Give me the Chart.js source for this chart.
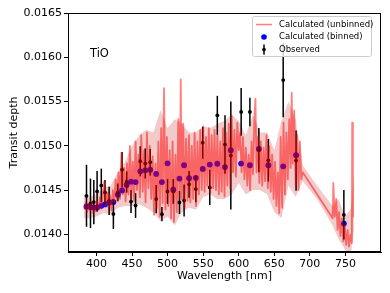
<!DOCTYPE html>
<html>
<head>
<meta charset="utf-8">
<script src="https://cdn.jsdelivr.net/npm/chart.js@4.4.1/dist/chart.umd.min.js"></script>
<style>
  html, body { margin: 0; padding: 0; background: #fff; }
  canvas { display: block; }
</style>
</head>
<body>
<canvas id="tio-graph" width="390" height="293"></canvas>
<script>
// bin centres (nm), shared by the binned model and the observations
const wavelength = [386, 391.6, 396.3, 400.9, 406.8, 412, 417.8, 423.8, 430.1, 436, 442.5, 448.6,
    455, 461.6, 468.6, 475.6, 484, 492, 499.9, 508, 516.7, 523.2, 530.2, 539.7,
    549.4, 559.3, 569.9, 580.7, 588.9, 603.4, 615.7, 628.3, 641.6, 662.5, 680.6, 747.8];

const binnedDepth = [0.014314, 0.014307, 0.014303, 0.014303, 0.014322, 0.014337, 0.01436, 0.014364,
    0.014447, 0.014495, 0.014557, 0.014594, 0.01459, 0.014711, 0.014723, 0.01473, 0.014682, 0.01459,
    0.014802, 0.014503, 0.014629, 0.01478, 0.014634, 0.014638, 0.014739, 0.014788, 0.014797, 0.014759,
    0.01495, 0.014799, 0.01478, 0.014966, 0.01478, 0.014768, 0.014894, 0.014121];

const obsDepth = [0.014435, 0.01435, 0.014364, 0.014484, 0.014552, 0.014473, 0.014378, 0.01423,
    0.014473, 0.01473, 0.014591, 0.01437, 0.014325, 0.014825, 0.0148, 0.014814, 0.014398, 0.014227,
    0.014484, 0.014484, 0.014359, 0.014382, 0.014564, 0.014511, 0.015034, 0.01453, 0.015344, 0.015015,
    0.01489, 0.015382, 0.015382, 0.01495, 0.014836, 0.015742, 0.014833, 0.01422];

const obsErr = [0.00035, 0.00028, 0.00025, 0.00023, 0.00019, 0.00014, 0.00016, 0.00017,
    0.0001, 0.0002, 0.00012, 0.00013, 0.00014, 0.00017, 0.00017, 0.00015, 0.00016, 0.00008,
    0.00014, 0.00014, 0.00013, 0.00018, 0.00015, 0.00015, 0.00018, 0.0002, 0.00022, 0.00033,
    0.00061, 0.00027, 0.00016, 0.00025, 0.00024, 0.00042, 0.00034, 0.00028];

// high resolution model spectrum
const unbinnedWl = [383, 385, 387, 389, 391, 393, 395, 397, 399, 401,
    403, 405, 407, 409, 411, 413, 415, 417, 419, 421, 423,
    425, 427, 429, 431, 433, 435, 437, 439, 441, 443,
    445, 447, 449, 451, 453, 455, 457, 459, 461,
    463, 465, 467, 469, 471, 473, 475, 477, 479,
    481, 483, 485, 487, 489, 491, 493, 495, 497, 499,
    501, 503, 505, 507, 509, 511, 513, 515, 517, 518.5,
    520, 522, 524, 526, 528, 530, 532, 534, 536, 538, 540, 542, 544, 546,
    548, 550, 552, 554, 556, 558, 560, 562, 564, 566, 568,
    570, 572, 574, 576, 578, 580, 582, 584, 586, 588, 590,
    592, 594, 596, 598, 600, 602, 604, 606,
    608, 610, 612, 614, 616, 618, 620, 622, 623.5, 625,
    627, 629, 631, 633, 635, 637, 639, 641, 643, 645,
    647, 649, 651, 653, 655, 657, 659, 661, 663, 665, 667,
    669, 671, 673, 674.5, 676, 678, 680, 682, 684, 686, 688, 690,
    732, 733, 735, 737, 739, 741, 743, 745, 747, 749, 751, 753, 755, 757, 759, 759.5, 760.5];

const unbinnedDepth = [0.01428, 0.01436, 0.01425, 0.01434, 0.01427, 0.01437, 0.01424, 0.01433, 0.01426, 0.01436,
    0.01428, 0.01442, 0.01429, 0.01445, 0.0146, 0.01432, 0.01447, 0.0143, 0.01444, 0.01427, 0.0145,
    0.01436, 0.01462, 0.01438, 0.0147, 0.0144, 0.01492, 0.01445, 0.01475, 0.01437, 0.0148,
    0.01445, 0.015, 0.0144, 0.01482, 0.01438, 0.01505, 0.0145, 0.0149, 0.01442,
    0.01512, 0.01448, 0.01495, 0.01436, 0.01515, 0.01452, 0.015, 0.0144, 0.01488,
    0.01422, 0.0148, 0.0143, 0.01505, 0.0142, 0.0152, 0.01435, 0.01565, 0.01428, 0.0151,
    0.01432, 0.01495, 0.01418, 0.01505, 0.01414, 0.0149, 0.01425, 0.0153, 0.0144, 0.01575,
    0.0144, 0.01525, 0.0143, 0.01508, 0.01438, 0.01512, 0.01436, 0.015, 0.0144, 0.01515, 0.01432, 0.01505, 0.01445, 0.01518,
    0.0145, 0.01522, 0.01448, 0.0151, 0.01455, 0.0152, 0.01447, 0.01512, 0.01452, 0.01518, 0.0145,
    0.01512, 0.01445, 0.01505, 0.01448, 0.0152, 0.01443, 0.01515, 0.01455, 0.01525, 0.01452, 0.01534,
    0.0147, 0.01518, 0.01465, 0.01526, 0.01495, 0.01515, 0.0147, 0.0151,
    0.01462, 0.01498, 0.01455, 0.0149, 0.0145, 0.01505, 0.01468, 0.0153, 0.01553, 0.0147,
    0.0151, 0.01458, 0.01505, 0.01455, 0.01498, 0.0146, 0.01512, 0.01452, 0.015, 0.01448,
    0.0149, 0.0144, 0.01482, 0.01432, 0.0147, 0.01424, 0.0151, 0.0143, 0.01526, 0.01445, 0.01515,
    0.01462, 0.0153, 0.01475, 0.0156, 0.0148, 0.0154, 0.01455, 0.01512, 0.0145, 0.01505, 0.01462, 0.0147,
    0.01418, 0.01458, 0.0142, 0.0144, 0.01405, 0.01425, 0.01398, 0.01418, 0.01392, 0.0141, 0.01388, 0.01405, 0.01386, 0.014, 0.0139, 0.01526, 0.0142];

// uncertainty band of the model
const bandWl = [382, 390, 400, 410, 420, 430, 440, 450, 460, 470, 480, 490, 500, 510, 520, 530, 540, 550, 560,
    570, 580, 590, 600, 610, 620, 630, 640, 650, 660, 670, 680, 690, 710, 732, 740, 750, 758, 762];
const bandHi = [0.01445, 0.01442, 0.01445, 0.01452, 0.01455, 0.0147, 0.01482, 0.015, 0.01512, 0.01518, 0.01515,
    0.0154, 0.0152, 0.0153, 0.01525, 0.01515, 0.01515, 0.01522, 0.0152, 0.01525, 0.01528, 0.01535, 0.01528,
    0.01512, 0.01535, 0.01515, 0.01515, 0.01495, 0.01528, 0.0155, 0.0153, 0.01478, 0.01455, 0.01432, 0.0144,
    0.0142, 0.0143, 0.0147];
const bandLo = [0.01418, 0.01418, 0.0142, 0.01424, 0.01422, 0.0143, 0.01432, 0.01432, 0.01434, 0.0143, 0.01425,
    0.01415, 0.0142, 0.0141, 0.01425, 0.0143, 0.01428, 0.01442, 0.01445, 0.0144, 0.0144, 0.01445, 0.01458,
    0.01445, 0.0145, 0.0145, 0.01445, 0.01425, 0.01418, 0.01455, 0.01442, 0.0146, 0.0144, 0.0141, 0.01395,
    0.01382, 0.0138, 0.01405];

const yTicks = [0.0140, 0.0145, 0.0150, 0.0155, 0.0160, 0.0165];
const xTicks = [400, 450, 500, 550, 600, 650, 700, 750];

const FONT = 'DejaVu Sans';
const RED = 'rgba(255, 0, 0, 0.5)';
const pts = (xs, ys) => xs.map((x, i) => ({ x: x, y: ys[i] }));

// vertical error bars for the observed points, drawn just before that dataset
const errorBars = {
    id: 'errorBars',
    beforeDatasetDraw(chart, args) {
        if (chart.data.datasets[args.index].label !== 'Observed') return;
        const { ctx, scales: { x, y } } = chart;
        ctx.save();
        ctx.strokeStyle = '#000';
        ctx.lineWidth = 1.5;
        obsDepth.forEach((v, i) => {
            const px = x.getPixelForValue(wavelength[i]);
            ctx.beginPath();
            ctx.moveTo(px, y.getPixelForValue(v - obsErr[i]));
            ctx.lineTo(px, y.getPixelForValue(v + obsErr[i]));
            ctx.stroke();
        });
        ctx.restore();
    }
};

// frame, species label and matplotlib-like legend
const decorations = {
    id: 'decorations',
    afterDraw(chart) {
        const { ctx, chartArea: a } = chart;
        ctx.save();
        ctx.strokeStyle = '#000';
        ctx.lineWidth = 1;
        ctx.strokeRect(Math.round(a.left) + 0.5, Math.round(a.top) + 0.5,
            Math.round(a.right - a.left) - 1, Math.round(a.bottom - a.top) - 1);

        ctx.fillStyle = '#000';
        ctx.font = '11.5px "' + FONT + '"';
        ctx.textBaseline = 'middle';
        ctx.fillText('TiO', 90, 54);

        // legend box
        const bx = 252.5, by = 16.5, bw = 119, bh = 40, r = 2;
        ctx.beginPath();
        ctx.moveTo(bx + r, by);
        ctx.arcTo(bx + bw, by, bx + bw, by + bh, r);
        ctx.arcTo(bx + bw, by + bh, bx, by + bh, r);
        ctx.arcTo(bx, by + bh, bx, by, r);
        ctx.arcTo(bx, by, bx + bw, by, r);
        ctx.closePath();
        ctx.fillStyle = 'rgba(255,255,255,0.8)';
        ctx.fill();
        ctx.strokeStyle = '#cccccc';
        ctx.stroke();

        const rows = [24.5, 37, 49.5];
        ctx.strokeStyle = RED;
        ctx.lineWidth = 1.5;
        ctx.beginPath();
        ctx.moveTo(256, rows[0]);
        ctx.lineTo(272, rows[0]);
        ctx.stroke();

        ctx.fillStyle = '#0000ff';
        ctx.beginPath();
        ctx.arc(264, rows[1], 2.8, 0, Math.PI * 2);
        ctx.fill();

        ctx.strokeStyle = '#000';
        ctx.lineWidth = 1.5;
        ctx.beginPath();
        ctx.moveTo(264, rows[2] - 5);
        ctx.lineTo(264, rows[2] + 5);
        ctx.stroke();
        ctx.fillStyle = '#000';
        ctx.beginPath();
        ctx.arc(264, rows[2], 1.8, 0, Math.PI * 2);
        ctx.fill();

        ctx.font = '8.5px "' + FONT + '"';
        ctx.fillText('Calculated (unbinned)', 279, rows[0]);
        ctx.fillText('Calculated (binned)', 279, rows[1]);
        ctx.fillText('Observed', 279, rows[2]);
        ctx.restore();
    }
};

Chart.defaults.font.family = FONT;
Chart.defaults.color = '#000';

new Chart(document.getElementById('tio-graph').getContext('2d'), {
    type: 'line',
    data: {
        datasets: [
            {
                label: 'band-hi',
                data: pts(bandWl, bandHi),
                borderWidth: 0,
                borderColor: 'rgba(0,0,0,0)',
                backgroundColor: 'rgba(220, 115, 115, 0.38)',
                fill: '+1',
                pointRadius: 0,
                tension: 0,
                order: 6
            },
            {
                label: 'band-lo',
                data: pts(bandWl, bandLo),
                borderWidth: 0,
                borderColor: 'rgba(0,0,0,0)',
                fill: false,
                pointRadius: 0,
                tension: 0,
                order: 5
            },
            {
                label: 'Calculated (binned)',
                data: pts(wavelength, binnedDepth),
                showLine: false,
                pointRadius: 2.9,
                pointBorderWidth: 0,
                pointBackgroundColor: '#0000ff',
                order: 4
            },
            {
                label: 'Observed',
                data: pts(wavelength, obsDepth),
                showLine: false,
                pointRadius: 1.9,
                pointBorderWidth: 0,
                pointBackgroundColor: '#000',
                order: 3
            },
            {
                label: 'Calculated (unbinned)',
                data: pts(unbinnedWl, unbinnedDepth),
                borderColor: RED,
                borderWidth: 1.8,
                borderJoinStyle: 'round',
                fill: false,
                pointRadius: 0,
                tension: 0,
                order: 1
            }
        ]
    },
    options: {
        responsive: false,
        animation: false,
        devicePixelRatio: 1,
        layout: { padding: { top: 13, right: 9, left: 0, bottom: 0 } },
        plugins: {
            legend: { display: false },
            tooltip: { enabled: false }
        },
        scales: {
            x: {
                type: 'linear',
                min: 360,
                max: 800,
                afterFit(s) { s.height = 41; },
                afterBuildTicks(s) { s.ticks = xTicks.map(v => ({ value: v })); },
                ticks: { font: { size: 11 }, padding: 2, maxRotation: 0, includeBounds: false },
                grid: { drawOnChartArea: false, drawTicks: true, tickLength: 4, color: '#000' },
                border: { display: true, color: '#000', width: 1 },
                title: { display: true, text: 'Wavelength [nm]', font: { size: 11 }, padding: { top: 0, bottom: 10 } }
            },
            y: {
                type: 'linear',
                min: 0.01380,
                max: 0.0165,
                afterFit(s) { s.width = 68; },
                afterBuildTicks(s) { s.ticks = yTicks.map(v => ({ value: v })); },
                ticks: { font: { size: 11 }, padding: 2, includeBounds: false, callback: v => v.toFixed(4) },
                grid: { drawOnChartArea: false, drawTicks: true, tickLength: 4, color: '#000' },
                border: { display: true, color: '#000', width: 1 },
                title: { display: true, text: 'Transit depth', font: { size: 11 }, padding: { top: 8, bottom: 0 } }
            }
        }
    },
    plugins: [errorBars, decorations]
});
</script>
</body>
</html>
